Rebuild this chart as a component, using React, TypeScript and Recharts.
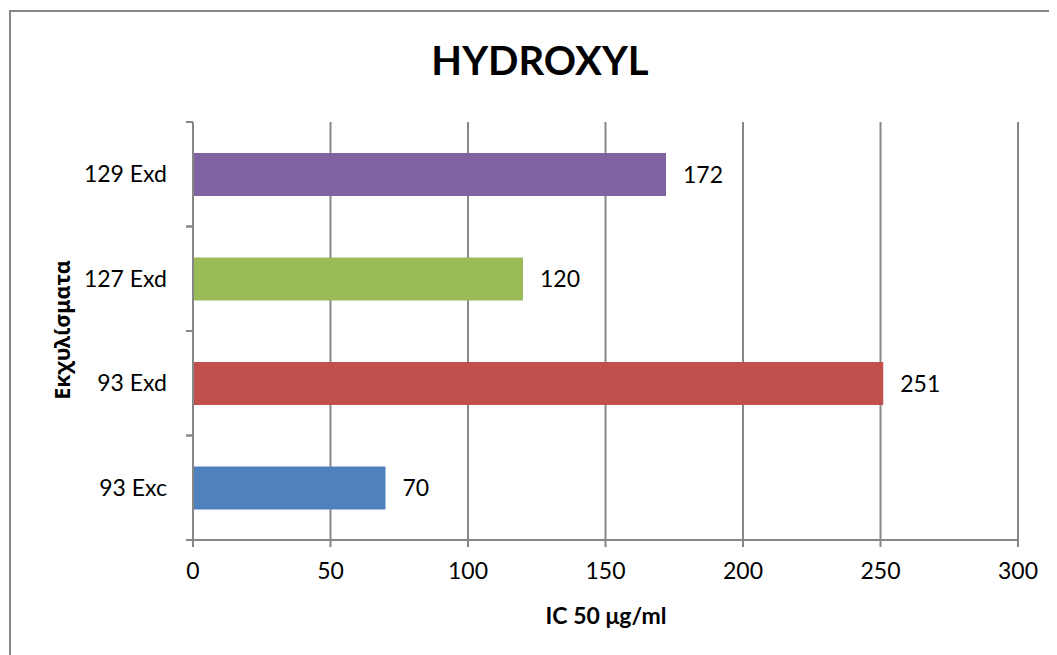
import React from "react";
import { BarChart, Bar, XAxis, YAxis, CartesianGrid, Cell, LabelList } from "recharts";

const categories = ["93 Exc", "93 Exd", "127 Exd", "129 Exd"];
const values = [70, 251, 120, 172];
const colors = ["#4F81BD", "#C0504D", "#9BBB59", "#8064A2"];
const xTicks = [0, 50, 100, 150, 200, 250, 300];
const title = "HYDROXYL";
const xLabel = "IC 50 μg/ml";
const yLabel = "Εκχυλίσματα";

const data = categories.map((name, i) => ({ name, value: values[i] }));

const GRAY = "#878787";
const FONT = "Lato, 'Open Sans', sans-serif";
const Y_TICK_MARGIN = 26;
const Y_TICK_LEN = 7;

const CategoryTick = (props: any) => {
  const { x, y, payload } = props;
  const half = payload && typeof payload.offset === "number" ? payload.offset : 0;
  const axisX = x + Y_TICK_MARGIN;
  return (
    <g>
      {half > 0 && (
        <>
          <line x1={axisX - Y_TICK_LEN} x2={axisX} y1={y - half} y2={y - half} stroke={GRAY} strokeWidth={2} />
          <line x1={axisX - Y_TICK_LEN} x2={axisX} y1={y + half} y2={y + half} stroke={GRAY} strokeWidth={2} />
        </>
      )}
      <text x={x} y={y} dy="0.355em" textAnchor="end" fill="#000" fontSize={23} fontFamily={FONT}>
        {payload.value}
      </text>
    </g>
  );
};

export default function App() {
  return (
    <div style={{ position: "relative", width: 1049, height: 647, overflow: "hidden", background: "#fff", fontFamily: FONT }}>
      <div style={{ position: "absolute", left: 1, top: 2, width: 1100, height: 800, border: `2px solid ${GRAY}`, boxSizing: "border-box" }} />
      <div style={{ position: "absolute", left: 0, width: 1064, top: 26, textAlign: "center", fontSize: 40, fontWeight: 700, color: "#000", lineHeight: "52px" }}>{title}</div>
      <div style={{ position: "absolute", left: 0, width: 1196, top: 592, textAlign: "center", fontSize: 23, fontWeight: 700, color: "#000", lineHeight: "30px" }}>{xLabel}</div>
      <div style={{ position: "absolute", left: 54, top: 322, width: 0, height: 0 }}>
        <div style={{ position: "absolute", left: -150, top: -15, width: 300, textAlign: "center", transform: "rotate(-90deg)", fontSize: 21.5, fontWeight: 700, fontFamily: "'Noto Sans', 'Open Sans', sans-serif", lineHeight: "30px", color: "#000" }}>{yLabel}</div>
      </div>
      <div style={{ position: "absolute", left: 0, top: 0 }}>
        <BarChart width={1049} height={647} data={data} layout="vertical" margin={{ top: 114, right: 39, left: 65, bottom: 55 }}>
          <CartesianGrid horizontal={false} vertical={true} stroke={GRAY} strokeWidth={2} />
          <XAxis type="number" domain={[0, 300]} ticks={xTicks} interval={0} height={60} tickSize={7} tickMargin={16}
            axisLine={{ stroke: GRAY, strokeWidth: 2 }} tickLine={{ stroke: GRAY, strokeWidth: 2 }}
            tick={{ fill: "#000", fontSize: 23, fontFamily: FONT }} />
          <YAxis type="category" dataKey="name" reversed width={120} tickSize={0} tickMargin={Y_TICK_MARGIN}
            axisLine={{ stroke: GRAY, strokeWidth: 2 }} tickLine={false} interval={0} tick={<CategoryTick />} />
          <Bar dataKey="value" barSize={43} isAnimationActive={false}>
            {data.map((d, i) => (
              <Cell key={d.name} fill={colors[i]} />
            ))}
            <LabelList dataKey="value" position="right" offset={17} fill="#000" fontSize={23} fontFamily={FONT} />
          </Bar>
        </BarChart>
      </div>
    </div>
  );
}
